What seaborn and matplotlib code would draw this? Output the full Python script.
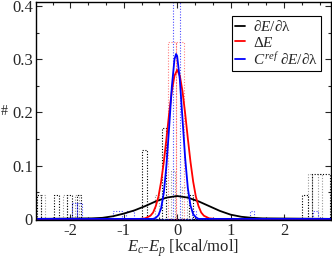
import numpy as np
import pandas as pd
import seaborn as sns
import matplotlib
matplotlib.use('Agg')
import matplotlib.pyplot as plt
from matplotlib.ticker import MultipleLocator, FuncFormatter

# fitted curves, values
black_x = [-2.65, -1.6, -1.4, -1.2, -1.0, -0.8, -0.6, -0.4, -0.2, 0.0, 0.2, 0.4, 0.6, 0.8, 1.0, 1.2, 1.4, 1.6, 2.9]
black_y = [0, 0.001, 0.002, 0.005, 0.010, 0.016, 0.024, 0.033, 0.040, 0.043, 0.040, 0.033, 0.024, 0.015, 0.008, 0.004, 0.002, 0.001, 0]

red_x = [-2.65, -0.7, -0.6, -0.5, -0.45, -0.4, -0.35, -0.3, -0.25, -0.2, -0.15, -0.1, -0.05, 0.0,
         0.05, 0.1, 0.15, 0.2, 0.25, 0.3, 0.35, 0.4, 0.45, 0.5, 0.6, 0.7, 2.9]
red_y = [0, 0, 0.001, 0.006, 0.012, 0.024, 0.042, 0.070, 0.107, 0.151, 0.198, 0.240, 0.269, 0.280,
         0.269, 0.240, 0.198, 0.151, 0.107, 0.070, 0.042, 0.024, 0.012, 0.006, 0.001, 0, 0]

blue_x = [-2.65, -0.45, -0.4, -0.35, -0.3, -0.25, -0.2, -0.15, -0.1, -0.05, -0.02, 0.0,
          0.05, 0.1, 0.15, 0.2, 0.25, 0.3, 0.35, 0.4, 2.9]
blue_y = [0, 0, 0.002, 0.007, 0.020, 0.049, 0.101, 0.172, 0.248, 0.300, 0.310, 0.306,
          0.262, 0.188, 0.114, 0.058, 0.025, 0.009, 0.003, 0, 0]

# histograms (bin left edge, right edge, height)
hist_black_left = [-2.62, -2.30, -2.06, -1.88, -0.66, -0.29, 0.22, 2.33, 2.52]
hist_black_right = [-2.55, -2.22, -1.97, -1.80, -0.57, -0.20, 0.30, 2.45, 2.86]
hist_black_h = [0.045, 0.045, 0.045, 0.045, 0.13, 0.17, 0.045, 0.045, 0.085]

hist_grey_left = [-2.55, -2.14, -1.92, -0.42, -0.12, 0.10, 2.45, 2.64]
hist_grey_right = [-2.48, -2.06, -1.84, -0.34, -0.04, 0.18, 2.52, 2.72]
hist_grey_h = [0.045, 0.045, 0.045, 0.045, 0.09, 0.06, 0.085, 0.085]

hist_red_left = [-0.17, -0.025]
hist_red_right = [-0.025, 0.12]
hist_red_h = [0.333, 0.333]

hist_blue_left = [-1.97, -1.88, -1.20, -0.95, -0.07, 0.28, 1.36, 2.54]
hist_blue_right = [-1.88, -1.78, -1.04, -0.80, 0.05, 0.36, 1.44, 2.64]
hist_blue_h = [0.03, 0.03, 0.014, 0.014, 0.45, 0.014, 0.015, 0.015]

legend_labels = [r'$\partial E/\partial\mathrm{\lambda}$', r'$\Delta E$',
                 r'$C^{ref}\ \partial E/\partial\mathrm{\lambda}$']

sns.set_style('ticks')
plt.rcParams['font.family'] = ['Liberation Serif', 'DejaVu Serif']
plt.rcParams['mathtext.fontset'] = 'custom'
plt.rcParams['mathtext.rm'] = 'Liberation Serif'
plt.rcParams['mathtext.it'] = 'Liberation Serif:italic'
plt.rcParams['axes.unicode_minus'] = False


def draw_hist(ax, lefts, rights, heights, color, alpha=1.0):
    # build contiguous edges, gaps become empty bins
    edges = [lefts[0]]
    centers, weights = [], []
    for l, r, h in zip(lefts, rights, heights):
        if l > edges[-1] + 1e-9:
            centers.append((edges[-1] + l) / 2)
            weights.append(0)
            edges.append(l)
        centers.append((l + r) / 2)
        weights.append(h)
        edges.append(r)
    sns.histplot(x=centers, weights=weights, bins=edges, fill=False, element='bars',
                 color=color, linestyle=(0, (1, 1.5)), linewidth=0.8, alpha=alpha, ax=ax)


fig = plt.figure(figsize=(3.32, 2.6), dpi=100)
ax = fig.add_axes([0.108, 0.154, 0.889, 0.838])

draw_hist(ax, hist_grey_left, hist_grey_right, hist_grey_h, '#999999')
draw_hist(ax, hist_black_left, hist_black_right, hist_black_h, 'black')
draw_hist(ax, hist_red_left, hist_red_right, hist_red_h, '#ff0000', alpha=0.5)
draw_hist(ax, hist_blue_left, hist_blue_right, hist_blue_h, '#0000ff', alpha=0.7)

sns.lineplot(x=black_x, y=black_y, color='black', lw=1.3, label=legend_labels[0], ax=ax)
sns.lineplot(x=red_x, y=red_y, color='#ff0000', lw=1.3, label=legend_labels[1], ax=ax)
sns.lineplot(x=blue_x, y=blue_y, color='#0000ff', lw=1.3, label=legend_labels[2], ax=ax)

ax.set_xlim(-2.645, 2.88)
ax.set_ylim(-0.002, 0.4075)
ax.set_ylabel('#', fontsize=10, rotation=0, ha='left', va='center')
ax.yaxis.set_label_coords(-0.12, 0.5)
ax.set_xlabel(r'$E_c$-$E_p$ [kcal/mol]', fontsize=12, labelpad=-1)

ax.xaxis.set_major_locator(MultipleLocator(1))
ax.xaxis.set_minor_locator(MultipleLocator(1 / 3))
ax.yaxis.set_major_locator(MultipleLocator(0.1))
ax.yaxis.set_minor_locator(MultipleLocator(0.05))
ax.yaxis.set_major_formatter(FuncFormatter(lambda v, p: '0' if abs(v) < 1e-9 else f'{v:.1f}'))
ax.tick_params(which='both', direction='in', top=True, right=True, labelsize=12, width=0.8)
ax.tick_params(which='major', length=4, pad=2)
ax.tick_params(which='minor', length=2)
for s in ax.spines.values():
    s.set_color('black')
    s.set_linewidth(1.0)

leg = ax.legend(loc='upper right', bbox_to_anchor=(0.966, 0.936), borderaxespad=0,
                fontsize=11, handlelength=0.7, handletextpad=0.5, labelspacing=0.1,
                borderpad=0.2, fancybox=False, framealpha=1)
leg.get_frame().set_edgecolor('black')
leg.get_frame().set_linewidth(0.8)

fig.savefig('out.png', dpi=100)
